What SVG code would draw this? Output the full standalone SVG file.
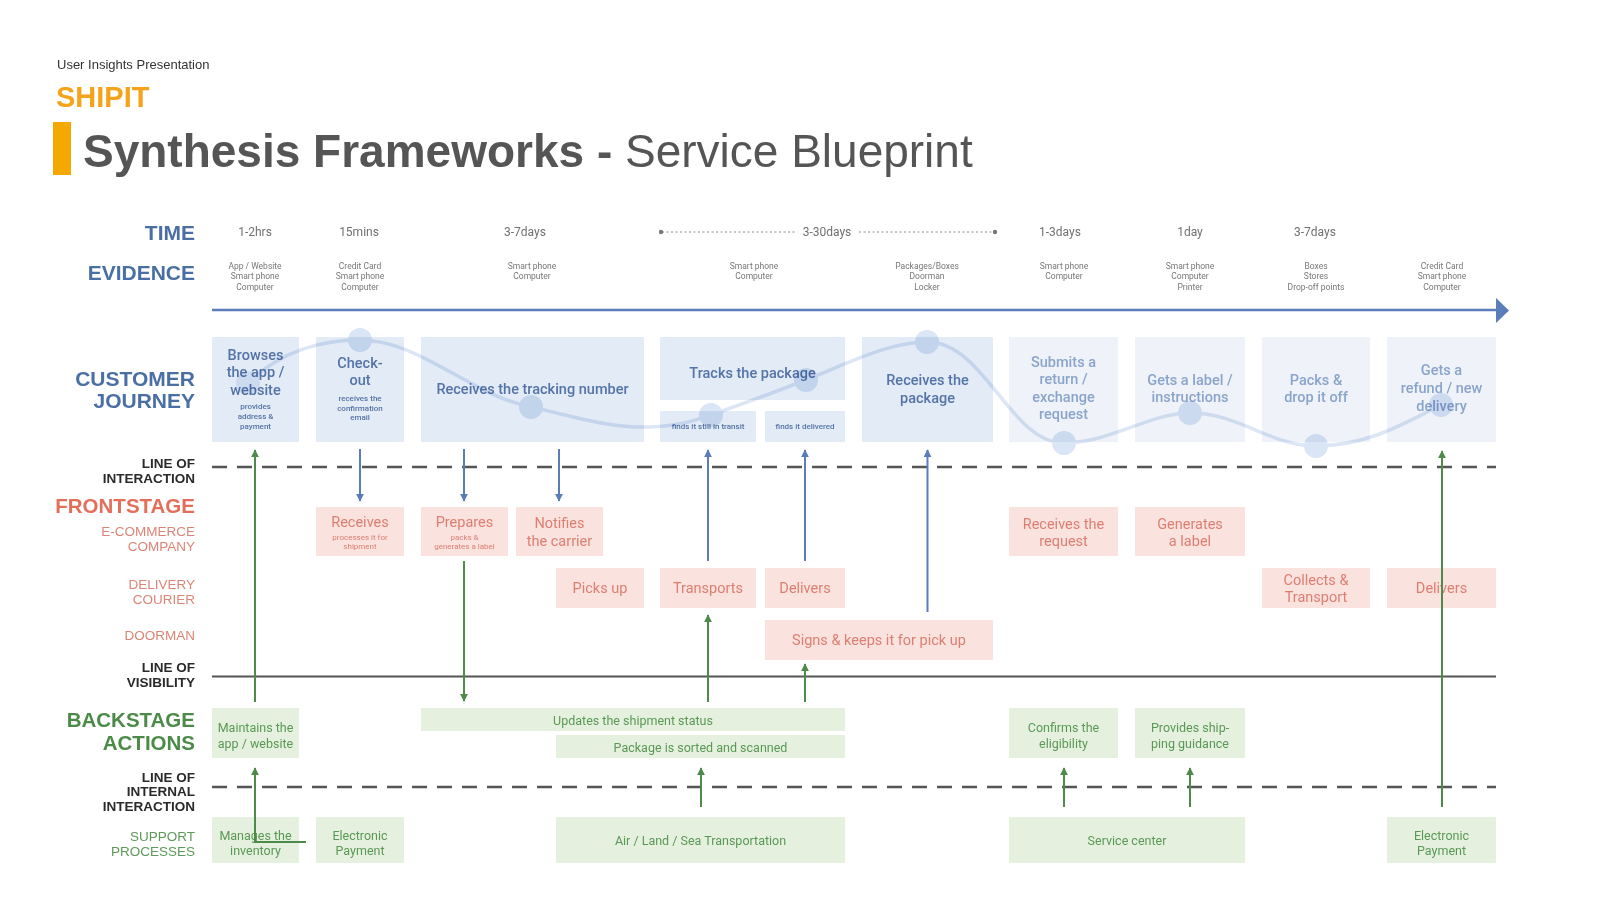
<svg xmlns="http://www.w3.org/2000/svg" width="1600" height="900" viewBox="0 0 1600 900">
<defs>
<marker id="ab" viewBox="0 0 10 10" refX="9" refY="5" markerWidth="8" markerHeight="8" markerUnits="userSpaceOnUse" orient="auto"><path d="M0,0 L10,5 L0,10 z" fill="#5a7dba"/></marker>
<marker id="ag" viewBox="0 0 10 10" refX="9" refY="5" markerWidth="8" markerHeight="8" markerUnits="userSpaceOnUse" orient="auto"><path d="M0,0 L10,5 L0,10 z" fill="#4e8a4a"/></marker>
<style>
text{dominant-baseline:central}
.hdr{font-family:"Liberation Sans",Arial,sans-serif}
.lb{font-family:"Liberation Sans",Arial,sans-serif;font-weight:bold;font-size:21px;fill:#4a6fa5;text-anchor:end}
.ll{font-family:"Liberation Sans",Arial,sans-serif;font-weight:bold;font-size:13.5px;fill:#2a2a2a;text-anchor:end}
.lf{font-family:"Liberation Sans",Arial,sans-serif;font-weight:bold;font-size:20.5px;fill:#e36f5a;text-anchor:end}
.lfs{font-family:"Liberation Sans",Arial,sans-serif;font-size:13.5px;fill:#dc8576;text-anchor:end}
.lg{font-family:"Liberation Sans",Arial,sans-serif;font-weight:bold;font-size:20.5px;fill:#4b8b47;text-anchor:end}
.lgs{font-family:"Liberation Sans",Arial,sans-serif;font-size:13.5px;fill:#5c9a58;text-anchor:end}
.tm{font-family:Roboto,"Liberation Sans",sans-serif;font-size:12px;fill:#707070;text-anchor:middle}
.ev{font-family:Roboto,"Liberation Sans",sans-serif;font-size:8.5px;fill:#777;text-anchor:middle}
.cjb{fill:#e3ebf6}
.cjf{fill:#eff3f9}
.cj{font-family:Roboto,"Liberation Sans",sans-serif;font-weight:500;font-size:14.5px;fill:#5473a8;text-anchor:middle}
.cjx{font-family:Roboto,"Liberation Sans",sans-serif;font-weight:500;font-size:14.5px;fill:#8aa4cb;text-anchor:middle}
.cjs{font-family:Roboto,"Liberation Sans",sans-serif;font-weight:500;font-size:8px;fill:#5473a8;text-anchor:middle}
.fb{fill:#fae2df}
.ft{font-family:Roboto,"Liberation Sans",sans-serif;font-size:14.5px;fill:#dd7f70;text-anchor:middle}
.fs{font-family:Roboto,"Liberation Sans",sans-serif;font-size:8px;fill:#dd7f70;text-anchor:middle}
.gb{fill:#e5f1de}
.gt{font-family:Roboto,"Liberation Sans",sans-serif;font-size:12.5px;fill:#5a9856;text-anchor:middle}
.cb{fill:none;stroke:#5a7dba;stroke-width:2;marker-end:url(#ab)}
.cg{fill:none;stroke:#4e8a4a;stroke-width:2;marker-end:url(#ag)}
.dash{stroke:#555;stroke-width:2.5;stroke-dasharray:15 10;fill:none}
</style>
</defs>
<rect width="1600" height="900" fill="#fff"/>

<g id="header">
<text class="hdr" x="57" y="64" font-size="13" fill="#333">User Insights Presentation</text>
<text class="hdr" x="56" y="97" font-size="29" font-weight="bold" fill="#f5a31a">SHIPIT</text>
<rect x="53" y="122" width="18" height="53" fill="#f5a800"/>
<text class="hdr" x="83" y="151" font-size="46" fill="#555"><tspan font-weight="bold">Synthesis Frameworks - </tspan>Service Blueprint</text>
</g>

<g id="lane-labels">
<text class="lb" x="195" y="232">TIME</text>
<text class="lb" x="195" y="272">EVIDENCE</text>
<text class="lb" x="195" y="378">CUSTOMER</text>
<text class="lb" x="195" y="400">JOURNEY</text>
<text class="ll" x="195" y="463">LINE OF</text>
<text class="ll" x="195" y="478">INTERACTION</text>
<text class="lf" x="195" y="505">FRONTSTAGE</text>
<text class="lfs" x="195" y="531">E-COMMERCE</text>
<text class="lfs" x="195" y="546">COMPANY</text>
<text class="lfs" x="195" y="584">DELIVERY</text>
<text class="lfs" x="195" y="599">COURIER</text>
<text class="lfs" x="195" y="635">DOORMAN</text>
<text class="ll" x="195" y="667">LINE OF</text>
<text class="ll" x="195" y="682">VISIBILITY</text>
<text class="lg" x="195" y="719">BACKSTAGE</text>
<text class="lg" x="195" y="742">ACTIONS</text>
<text class="ll" x="195" y="777">LINE OF</text>
<text class="ll" x="195" y="791">INTERNAL</text>
<text class="ll" x="195" y="806">INTERACTION</text>
<text class="lgs" x="195" y="836">SUPPORT</text>
<text class="lgs" x="195" y="851">PROCESSES</text>
</g>

<g id="time-row">
<text class="tm" x="255" y="232">1-2hrs</text>
<text class="tm" x="359" y="232">15mins</text>
<text class="tm" x="525" y="232">3-7days</text>
<path d="M662,232 H795 M859,232 H994" stroke="#8a8a8a" stroke-width="1" stroke-dasharray="2 2.5"/>
<circle cx="661" cy="232" r="2.2" fill="#777"/>
<circle cx="995" cy="232" r="2.2" fill="#777"/>
<text class="tm" x="827" y="232">3-30days</text>
<text class="tm" x="1060" y="232">1-3days</text>
<text class="tm" x="1190" y="232">1day</text>
<text class="tm" x="1315" y="232">3-7days</text>
</g>

<g id="evidence-row">
<text class="ev" x="255" y="266">App / Website</text><text class="ev" x="255" y="276">Smart phone</text><text class="ev" x="255" y="287">Computer</text>
<text class="ev" x="360" y="266">Credit Card</text><text class="ev" x="360" y="276">Smart phone</text><text class="ev" x="360" y="287">Computer</text>
<text class="ev" x="532" y="266">Smart phone</text><text class="ev" x="532" y="276">Computer</text>
<text class="ev" x="754" y="266">Smart phone</text><text class="ev" x="754" y="276">Computer</text>
<text class="ev" x="927" y="266">Packages/Boxes</text><text class="ev" x="927" y="276">Doorman</text><text class="ev" x="927" y="287">Locker</text>
<text class="ev" x="1064" y="266">Smart phone</text><text class="ev" x="1064" y="276">Computer</text>
<text class="ev" x="1190" y="266">Smart phone</text><text class="ev" x="1190" y="276">Computer</text><text class="ev" x="1190" y="287">Printer</text>
<text class="ev" x="1316" y="266">Boxes</text><text class="ev" x="1316" y="276">Stores</text><text class="ev" x="1316" y="287">Drop-off points</text>
<text class="ev" x="1442" y="266">Credit Card</text><text class="ev" x="1442" y="276">Smart phone</text><text class="ev" x="1442" y="287">Computer</text>
</g>

<g id="timeline">
<path d="M212,310 H1497" stroke="#5b7dbb" stroke-width="2.5"/>
<polygon points="1496,298 1509,310.5 1496,323" fill="#5b7dbb"/>
</g>

<g id="lines">
<path class="dash" d="M212,467 H1496"/>
<path d="M212,676.5 H1496" stroke="#555" stroke-width="2"/>
<path class="dash" d="M212,787 H1496"/>
</g>

<g id="cj-browses"><rect class="cjb" x="212" y="337" width="87" height="105"/>
<text class="cj" x="255.5" y="355">Browses</text><text class="cj" x="255.5" y="372.5">the app /</text><text class="cj" x="255.5" y="390">website</text>
<text class="cjs" x="255.5" y="406">provides</text><text class="cjs" x="255.5" y="416">address &amp;</text><text class="cjs" x="255.5" y="426.5">payment</text></g>
<g id="cj-checkout"><rect class="cjb" x="316" y="337" width="88" height="105"/>
<text class="cj" x="360" y="363">Check-</text><text class="cj" x="360" y="380.5">out</text>
<text class="cjs" x="360" y="398">receives the</text><text class="cjs" x="360" y="408">confirmation</text><text class="cjs" x="360" y="417.5">email</text></g>
<g id="cj-tracking"><rect class="cjb" x="421" y="337" width="223" height="105"/>
<text class="cj" x="532.5" y="389">Receives the tracking number</text></g>
<g id="cj-tracks"><rect class="cjb" x="660" y="337" width="185" height="63"/>
<text class="cj" x="752.5" y="373.5">Tracks the package</text></g>
<g id="cj-transit"><rect class="cjb" x="660" y="411" width="96" height="31"/>
<text class="cjs" x="708" y="426.5">finds it still in transit</text></g>
<g id="cj-delivered"><rect class="cjb" x="765" y="411" width="80" height="31"/>
<text class="cjs" x="805" y="426.5">finds it delivered</text></g>
<g id="cj-receives-pkg"><rect class="cjb" x="862" y="337" width="131" height="105"/>
<text class="cj" x="927.5" y="380">Receives the</text><text class="cj" x="927.5" y="398">package</text></g>
<g id="cj-submits"><rect class="cjf" x="1009" y="337" width="109" height="105"/>
<text class="cjx" x="1063.5" y="362">Submits a</text><text class="cjx" x="1063.5" y="379.5">return /</text><text class="cjx" x="1063.5" y="397">exchange</text><text class="cjx" x="1063.5" y="414.5">request</text></g>
<g id="cj-label"><rect class="cjf" x="1135" y="337" width="110" height="105"/>
<text class="cjx" x="1190" y="380">Gets a label /</text><text class="cjx" x="1190" y="397.5">instructions</text></g>
<g id="cj-packs"><rect class="cjf" x="1262" y="337" width="108" height="105"/>
<text class="cjx" x="1316" y="380">Packs &amp;</text><text class="cjx" x="1316" y="397.5">drop it off</text></g>
<g id="cj-refund"><rect class="cjf" x="1387" y="337" width="109" height="105"/>
<text class="cjx" x="1441.5" y="370.5">Gets a</text><text class="cjx" x="1441.5" y="388">refund / new</text><text class="cjx" x="1441.5" y="406">delivery</text></g>

<g id="journey-wave" style="mix-blend-mode:multiply" fill="#dae5f5">
<path d="M248,383 C280,352 320,340 360,340 C420,340 470,395 531,407 C580,418 610,428 650,427 C680,426 695,420 711,415 C745,403 775,392 806,380 C850,362 890,342 927,342 C985,342 1010,443 1064,443 C1110,443 1150,413 1190,413 C1240,413 1270,446 1316,446 C1370,446 1410,420 1441,405" fill="none" stroke="#dce6f5" stroke-width="3.5"/>
<circle cx="248" cy="383" r="12" fill="#e6edf8"/>
<circle cx="360" cy="340" r="12"/>
<circle cx="531" cy="407" r="12"/>
<circle cx="711" cy="415" r="12"/>
<circle cx="806" cy="380" r="12"/>
<circle cx="927" cy="342" r="12"/>
<circle cx="1064" cy="443" r="12"/>
<circle cx="1190" cy="413" r="12"/>
<circle cx="1316" cy="446" r="12"/>
<circle cx="1441" cy="405" r="12"/>
</g>

<g id="fs-receives"><rect class="fb" x="316" y="507" width="88" height="49"/>
<text class="ft" x="360" y="522">Receives</text><text class="fs" x="360" y="537">processes it for</text><text class="fs" x="360" y="546.5">shipment</text></g>
<g id="fs-prepares"><rect class="fb" x="421" y="507" width="87" height="49"/>
<text class="ft" x="464.5" y="522">Prepares</text><text class="fs" x="464.5" y="537">packs &amp;</text><text class="fs" x="464.5" y="546.5">generates a label</text></g>
<g id="fs-notifies"><rect class="fb" x="516" y="507" width="87" height="49"/>
<text class="ft" x="559.5" y="523.5">Notifies</text><text class="ft" x="559.5" y="541">the carrier</text></g>
<g id="fs-receives-request"><rect class="fb" x="1009" y="507" width="109" height="49"/>
<text class="ft" x="1063.5" y="524">Receives the</text><text class="ft" x="1063.5" y="541.5">request</text></g>
<g id="fs-generates"><rect class="fb" x="1135" y="507" width="110" height="49"/>
<text class="ft" x="1190" y="524">Generates</text><text class="ft" x="1190" y="541.5">a label</text></g>
<g id="fs-picks"><rect class="fb" x="556" y="568" width="88" height="40"/>
<text class="ft" x="600" y="588">Picks up</text></g>
<g id="fs-transports"><rect class="fb" x="660" y="568" width="96" height="40"/>
<text class="ft" x="708" y="588">Transports</text></g>
<g id="fs-delivers"><rect class="fb" x="765" y="568" width="80" height="40"/>
<text class="ft" x="805" y="588">Delivers</text></g>
<g id="fs-collects"><rect class="fb" x="1262" y="568" width="108" height="40"/>
<text class="ft" x="1316" y="580.5">Collects &amp;</text><text class="ft" x="1316" y="597.5">Transport</text></g>
<g id="fs-delivers-2"><rect class="fb" x="1387" y="568" width="109" height="40"/>
<text class="ft" x="1441.5" y="588">Delivers</text></g>
<g id="fs-signs"><rect class="fb" x="765" y="620" width="228" height="40"/>
<text class="ft" x="879" y="640">Signs &amp; keeps it for pick up</text></g>

<g id="bs-maintains"><rect class="gb" x="212" y="708" width="87" height="50"/>
<text class="gt" x="255.5" y="727">Maintains the</text><text class="gt" x="255.5" y="743">app / website</text></g>
<g id="bs-updates"><rect class="gb" x="421" y="708" width="424" height="23"/>
<text class="gt" x="633" y="720">Updates the shipment status</text></g>
<g id="bs-sorted"><rect class="gb" x="556" y="735" width="289" height="23"/>
<text class="gt" x="700.5" y="747">Package is sorted and scanned</text></g>
<g id="bs-confirms"><rect class="gb" x="1009" y="708" width="109" height="50"/>
<text class="gt" x="1063.5" y="727">Confirms the</text><text class="gt" x="1063.5" y="743">eligibility</text></g>
<g id="bs-provides"><rect class="gb" x="1135" y="708" width="110" height="50"/>
<text class="gt" x="1190" y="727">Provides ship-</text><text class="gt" x="1190" y="743">ping guidance</text></g>

<g id="sp-manages"><rect class="gb" x="212" y="817" width="87" height="46"/>
<text class="gt" x="255.5" y="835">Manages the</text><text class="gt" x="255.5" y="850">inventory</text></g>
<g id="sp-payment"><rect class="gb" x="316" y="817" width="88" height="46"/>
<text class="gt" x="360" y="835">Electronic</text><text class="gt" x="360" y="850">Payment</text></g>
<g id="sp-transportation"><rect class="gb" x="556" y="817" width="289" height="46"/>
<text class="gt" x="700.5" y="840.5">Air / Land / Sea Transportation</text></g>
<g id="sp-service"><rect class="gb" x="1009" y="817" width="236" height="46"/>
<text class="gt" x="1127" y="840.5">Service center</text></g>
<g id="sp-payment-2"><rect class="gb" x="1387" y="817" width="109" height="46"/>
<text class="gt" x="1441.5" y="835">Electronic</text><text class="gt" x="1441.5" y="850">Payment</text></g>

<g id="connectors">
<path class="cb" d="M360,449 V501"/>
<path class="cb" d="M464,449 V501"/>
<path class="cb" d="M559,449 V501"/>
<path class="cb" d="M708,561 V450"/>
<path class="cb" d="M805,561 V450"/>
<path class="cb" d="M927.5,612 V450"/>
<path class="cg" d="M255,702 V450"/>
<path class="cg" d="M306,842 H255 V768"/>
<path class="cg" d="M464,561 V701"/>
<path class="cg" d="M708,702 V615"/>
<path class="cg" d="M805,702 V664"/>
<path class="cg" d="M701,807 V768"/>
<path class="cg" d="M1064,807 V768"/>
<path class="cg" d="M1190,807 V768"/>
<path class="cg" d="M1442,807 V451"/>
</g>
</svg>
